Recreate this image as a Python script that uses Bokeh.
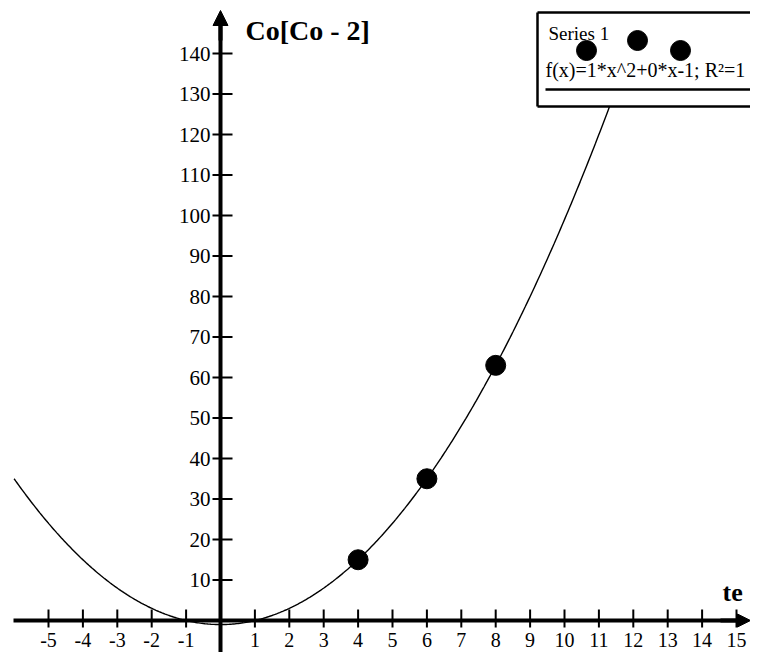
import numpy as np
from bokeh.plotting import figure
from bokeh.models import Range1d, Arrow, NormalHead
from bokeh.core.properties import value
from bokeh.embed import file_html
from bokeh.resources import INLINE

# ---- data ----
points_x = [4, 6, 8]
points_y = [15, 35, 63]
x_ticks = [-5, -4, -3, -2, -1, 1, 2, 3, 4, 5, 6, 7, 8, 9, 10, 11, 12, 13, 14, 15]
y_ticks = [10, 20, 30, 40, 50, 60, 70, 80, 90, 100, 110, 120, 130, 140]
x_tick_labels = [str(t) for t in x_ticks]
y_tick_labels = [str(t) for t in y_ticks]
y_title = "Co[Co - 2]"
x_title = "te"
legend_series = "Series 1"
legend_formula = "f(x)=1*x^2+0*x-1; R²=1"

# ---- layout constants (pixel positions in the picture) ----
W, H = 750, 652
X0, Y0 = 220, 620                     # pixel of the origin
PXX = (736 - X0) / 15                 # pixels per x unit
PXY = (Y0 - 53) / 140                 # pixels per y unit
FONT = "Liberation Serif"

def X(px):
    return (px - X0) / PXX

def Y(py):
    return (Y0 - py) / PXY

p = figure(width=W, height=H, output_backend="svg", toolbar_location=None,
           x_range=Range1d(X(0), X(W)), y_range=Range1d(Y(H), Y(0)),
           x_axis_location=None, y_axis_location=None, min_border=0)
p.grid.visible = False
p.outline_line_color = None
p.background_fill_color = "white"
p.border_fill_color = "white"

# trend curve (quadratic fit of the points), hidden under the legend at its top
coef = np.polyfit(points_x, points_y, 2)
cx = np.linspace(-6, 11.7, 400)
p.line(cx, np.polyval(coef, cx), line_color="black", line_width=1.4)

# axis lines with arrows
p.segment(x0=[X(13)], y0=[0], x1=[X(740)], y1=[0], line_color="black", line_width=4)
p.segment(x0=[0], y0=[Y(H)], x1=[0], y1=[Y(24)], line_color="black", line_width=4)
p.add_layout(Arrow(end=NormalHead(size=15, fill_color="black", line_color="black"),
                   x_start=0, y_start=Y(40), x_end=0, y_end=Y(10),
                   line_color="black", line_width=4))
p.add_layout(Arrow(end=NormalHead(size=13, fill_color="black", line_color="black"),
                   x_start=X(720), y_start=0, x_end=X(750), y_end=0,
                   line_color="black", line_width=4))

# ticks
n = len(x_ticks)
p.segment(x0=x_ticks, y0=[Y(Y0 + 7)] * n, x1=x_ticks, y1=[Y(Y0 - 11)] * n,
          line_color="black", line_width=2)
m = len(y_ticks)
p.segment(x0=[X(212)] * m, y0=y_ticks, x1=[X(232)] * m, y1=y_ticks,
          line_color="black", line_width=2)

# tick labels
p.text(x=x_ticks, y=[Y(Y0 + 19)] * n, text=x_tick_labels,
       text_font=value(FONT), text_font_size="20px", text_align="center",
       text_baseline="middle", text_color="black")
p.text(x=[X(210)] * m, y=y_ticks, text=y_tick_labels,
       text_font=value(FONT), text_font_size="21px", text_align="right",
       text_baseline="middle", text_color="black")

# axis titles
p.text(x=[X(245)], y=[Y(30)], text=[y_title], text_font=value(FONT),
       text_font_size="28px", text_font_style="bold", text_baseline="middle",
       text_color="black")
p.text(x=[X(722)], y=[Y(Y0 - 28)], text=[x_title], text_font=value(FONT),
       text_font_size="26px", text_font_style="bold", text_baseline="middle",
       text_color="black")

# data points
p.scatter(points_x, points_y, size=20, color="black")

# legend box (runs on past the right edge)
box_l, box_t, box_b, box_r = X(537), Y(12), Y(106), X(W + 40)
p.patch(x=[box_l, box_r, box_r, box_l], y=[box_t, box_t, box_b, box_b],
        fill_color="white", line_color=None)
p.segment(x0=[box_l, box_l, box_l], y0=[box_t, box_b, box_t],
          x1=[box_r, box_r, box_l], y1=[box_t, box_b, box_b],
          line_color="black", line_width=2.5)
p.text(x=[X(548)], y=[Y(33)], text=[legend_series], text_font=value(FONT),
       text_font_size="19px", text_baseline="middle", text_color="black")
p.text(x=[X(545)], y=[Y(69)], text=[legend_formula], text_font=value(FONT),
       text_font_size="20px", text_baseline="middle", text_color="black")
p.segment(x0=[X(545)], y0=[Y(89)], x1=[box_r], y1=[Y(89)],
          line_color="black", line_width=2.5)
legend_dot_px = [(586, 50), (637, 40), (680, 50)]
p.scatter([X(a) for a, b in legend_dot_px], [Y(b) for a, b in legend_dot_px],
          size=20, color="black")

open("out.html", "w").write(file_html(p, INLINE))
